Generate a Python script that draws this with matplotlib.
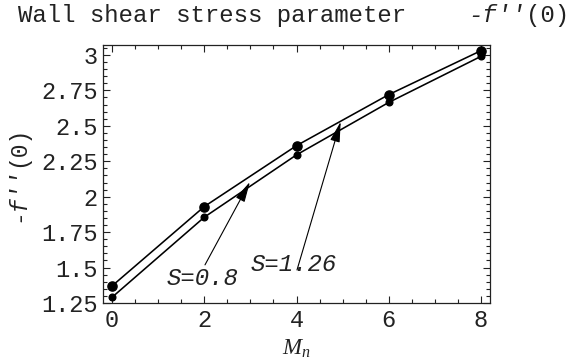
import matplotlib
matplotlib.use("Agg")
import matplotlib.pyplot as plt
from matplotlib.ticker import MultipleLocator, FuncFormatter

# Wall shear stress -f''(0) against magnetic parameter M_n for two values of S
mn = [0, 2, 4, 6, 8]
shear_s126 = [1.37, 1.93, 2.36, 2.72, 3.03]
shear_s08 = [1.29, 1.855, 2.295, 2.665, 2.99]

x_ticks = [0, 2, 4, 6, 8]
y_ticks = [1.25, 1.5, 1.75, 2.0, 2.25, 2.5, 2.75, 3.0]

plt.rcParams["font.family"] = ["Liberation Mono", "DejaVu Sans"]
plt.rcParams["mathtext.fontset"] = "custom"
plt.rcParams["mathtext.it"] = "Liberation Serif:italic"
plt.rcParams["mathtext.rm"] = "Liberation Serif"

W, H = 569, 360
fig = plt.figure(figsize=(W / 100, H / 100), dpi=100)
fig.patch.set_facecolor("white")

left, right, top, bottom = 103, 490, 45, 303
ax = fig.add_axes([left / W, 1 - bottom / H, (right - left) / W, (bottom - top) / H])

ax.plot(mn, shear_s126, color="black", lw=1.15, marker="o", ms=6.6,
        mfc="black", mec="black", zorder=3)
ax.plot(mn, shear_s08, color="black", lw=1.15, marker="o", ms=4.8,
        mfc="black", mec="black", zorder=3)

ax.set_xlim(-0.195, 8.195)
ax.set_ylim(1.25, 3.07)

ax.set_xticks(x_ticks)
ax.set_yticks(y_ticks)
ax.xaxis.set_minor_locator(MultipleLocator(0.5))
ax.yaxis.set_minor_locator(MultipleLocator(0.05))
ax.yaxis.set_major_formatter(FuncFormatter(lambda v, p: f"{v:g}"))
ax.xaxis.set_major_formatter(FuncFormatter(lambda v, p: f"{v:g}"))

ax.tick_params(which="both", direction="in", top=True, right=True,
               width=0.8, color="#222222", labelsize=17, labelcolor="#222222")
ax.tick_params(which="major", length=5)
ax.tick_params(which="minor", length=3)
ax.tick_params(axis="x", pad=4)
ax.tick_params(axis="y", pad=4)
for s in ax.spines.values():
    s.set_linewidth(0.9)
    s.set_color("#222222")

# Arrows pointing from the S labels to the curves
arrow = dict(arrowstyle="-|>,head_length=1.25,head_width=0.3", color="black",
             lw=0.8, shrinkA=0, shrinkB=0)
ax.annotate("", xy=(2.99, 2.104), xytext=(2.016, 1.519), arrowprops=arrow)
ax.annotate("", xy=(4.958, 2.529), xytext=(4.011, 1.483), arrowprops=arrow)

ax.text(1.192, 1.377, "S=0.8", fontsize=17.3, fontstyle="italic",
        ha="left", va="baseline", color="#222222")
ax.text(3.013, 1.478, "S=1.26", fontsize=17.3, fontstyle="italic",
        ha="left", va="baseline", color="#222222")

# Title in pieces so that f'' is italic
cw = 14.4
fig.text(18 / W, 1 - 22 / H, "Wall shear stress parameter", fontsize=17.3,
         ha="left", va="baseline", color="#222222")
fig.text(468 / W, 1 - 22 / H, "-f''", fontsize=17.3, fontstyle="italic",
         ha="left", va="baseline", color="#222222")
fig.text((468 + 4 * cw) / W, 1 - 22 / H, "(0)", fontsize=17.3,
         ha="left", va="baseline", color="#222222")

# Rotated y label
fig.text(29 / W, 1 - 222 / H, "-f''", fontsize=16.5, fontstyle="italic",
         rotation=90, ha="right", va="bottom", color="#222222",
         rotation_mode="default")
fig.text(29 / W, 1 - 167 / H, "(0)", fontsize=16.5,
         rotation=90, ha="right", va="bottom", color="#222222")

# x label
fig.text(296 / W, 1 - 355 / H, r"$M_n$", fontsize=16.5, ha="center",
         va="baseline", color="#222222")

fig.savefig("out.png", dpi=100, facecolor="white")
